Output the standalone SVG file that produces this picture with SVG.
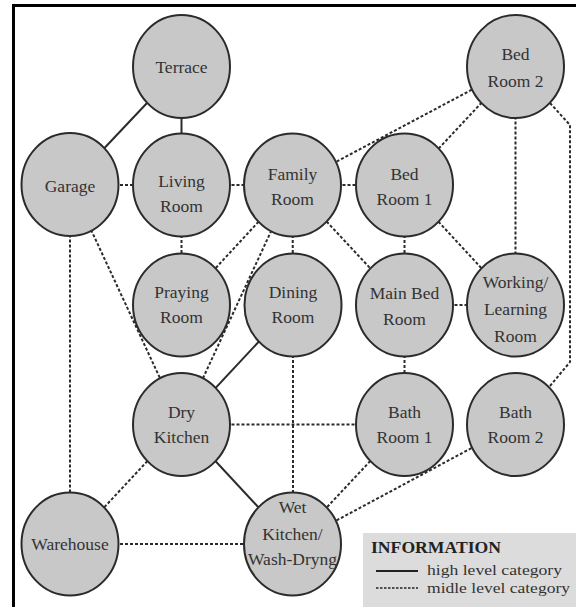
<svg xmlns="http://www.w3.org/2000/svg" width="576" height="607" viewBox="0 0 576 607">
<style>
.n ellipse{fill:#c8c8c8;stroke:#2b2b2b;stroke-width:2}
.n text,.lg text{font-family:"Liberation Serif","Times New Roman",serif;font-size:17.5px;fill:#333;text-anchor:middle}
.lg text{text-anchor:start}
.s{stroke:#2b2b2b;stroke-width:2;fill:none}
.d{stroke:#2b2b2b;stroke-width:2;fill:none;stroke-dasharray:3 2}
</style>
<rect x="0" y="0" width="576" height="607" fill="#fff"/>
<path d="M13.5 607V5.5H576" fill="none" stroke="#000" stroke-width="3"/>
<g id="connectors">
<line class="s" x1="181.5" y1="66.5" x2="70" y2="184.5"/>
<line class="s" x1="181.5" y1="66.5" x2="181.5" y2="185"/>
<line class="s" x1="181.5" y1="424.5" x2="293" y2="305"/>
<line class="s" x1="181.5" y1="424.5" x2="292.5" y2="544"/>
<line class="d" x1="70" y1="185" x2="181.5" y2="185"/>
<line class="d" x1="181.5" y1="185" x2="292.5" y2="185"/>
<line class="d" x1="292.5" y1="185" x2="404.5" y2="185"/>
<line class="d" x1="292.5" y1="185" x2="515.5" y2="66.5"/>
<line class="d" x1="404.5" y1="185" x2="515.5" y2="66.5"/>
<line class="d" x1="515.5" y1="66.5" x2="515.5" y2="305"/>
<polyline class="d" points="550,103 570,125 570,362 550,386"/>
<line class="d" x1="181.5" y1="185" x2="181.5" y2="305"/>
<line class="d" x1="292.5" y1="185" x2="181.5" y2="305"/>
<line class="d" x1="292.5" y1="185" x2="181.5" y2="424.5"/>
<line class="d" x1="292.5" y1="185" x2="293" y2="305"/>
<line class="d" x1="292.5" y1="185" x2="404.5" y2="305"/>
<line class="d" x1="404.5" y1="185" x2="404.5" y2="305"/>
<line class="d" x1="404.5" y1="185" x2="515.5" y2="305"/>
<line class="d" x1="404.5" y1="305" x2="515.5" y2="305"/>
<line class="d" x1="404.5" y1="305" x2="404.5" y2="424.5"/>
<line class="d" x1="70" y1="184.5" x2="70" y2="544"/>
<line class="d" x1="70" y1="184.5" x2="181.5" y2="424.5"/>
<line class="d" x1="293" y1="305" x2="293" y2="544"/>
<line class="d" x1="181.5" y1="424.5" x2="404.5" y2="424.5"/>
<line class="d" x1="181.5" y1="424.5" x2="70" y2="544"/>
<line class="d" x1="70" y1="544" x2="292.5" y2="544"/>
<line class="d" x1="404.5" y1="424.5" x2="292.5" y2="544"/>
<line class="d" x1="515.5" y1="424.5" x2="292.5" y2="544"/>
</g>
<g id="terrace" class="n"><ellipse cx="181.5" cy="66.5" rx="48.5" ry="51.5"/><text x="181.5" y="73">Terrace</text></g>
<g id="bedroom2" class="n"><ellipse cx="515.5" cy="66.5" rx="48.5" ry="51.5"/><text x="515.5" y="60">Bed</text><text x="515.5" y="87">Room 2</text></g>
<g id="garage" class="n"><ellipse cx="70" cy="184.5" rx="48.5" ry="51.5"/><text x="70" y="191.5">Garage</text></g>
<g id="livingroom" class="n"><ellipse cx="181.5" cy="185" rx="48.5" ry="51.5"/><text x="181.5" y="187">Living</text><text x="181.5" y="212">Room</text></g>
<g id="familyroom" class="n"><ellipse cx="292.5" cy="185" rx="48.5" ry="51.5"/><text x="292.5" y="180">Family</text><text x="292.5" y="205">Room</text></g>
<g id="bedroom1" class="n"><ellipse cx="404.5" cy="185" rx="48.5" ry="51.5"/><text x="404.5" y="180">Bed</text><text x="404.5" y="205">Room 1</text></g>
<g id="prayingroom" class="n"><ellipse cx="181.5" cy="305" rx="48.5" ry="51.5"/><text x="181.5" y="298">Praying</text><text x="181.5" y="323">Room</text></g>
<g id="diningroom" class="n"><ellipse cx="293" cy="305" rx="48.5" ry="51.5"/><text x="293" y="298">Dining</text><text x="293" y="323">Room</text></g>
<g id="mainbedroom" class="n"><ellipse cx="404.5" cy="305" rx="48.5" ry="51.5"/><text x="404.5" y="299">Main Bed</text><text x="404.5" y="325">Room</text></g>
<g id="workingroom" class="n"><ellipse cx="515.5" cy="305" rx="48.5" ry="51.5"/><text x="515.5" y="288">Working/</text><text x="515.5" y="315">Learning</text><text x="515.5" y="342">Room</text></g>
<g id="drykitchen" class="n"><ellipse cx="181.5" cy="424.5" rx="48.5" ry="51.5"/><text x="181.5" y="418">Dry</text><text x="181.5" y="443">Kitchen</text></g>
<g id="bathroom1" class="n"><ellipse cx="404.5" cy="424.5" rx="48.5" ry="51.5"/><text x="404.5" y="418">Bath</text><text x="404.5" y="443">Room 1</text></g>
<g id="bathroom2" class="n"><ellipse cx="515.5" cy="424.5" rx="48.5" ry="51.5"/><text x="515.5" y="418">Bath</text><text x="515.5" y="443">Room 2</text></g>
<g id="warehouse" class="n"><ellipse cx="70" cy="544" rx="48.5" ry="51.5"/><text x="70" y="550">Warehouse</text></g>
<g id="wetkitchen" class="n"><ellipse cx="292.5" cy="544" rx="48.5" ry="51.5"/><text x="292.5" y="513">Wet</text><text x="292.5" y="540">Kitchen/</text><text x="292.5" y="565">Wash-Dryng</text></g>
<g id="legend" class="lg">
<rect x="363" y="533" width="213" height="74" fill="#dcdcdc"/>
<text x="371" y="553" style="font-weight:bold;fill:#222;font-size:17px" textLength="130" lengthAdjust="spacingAndGlyphs">INFORMATION</text>
<line x1="376" y1="571" x2="418" y2="571" stroke="#222" stroke-width="2"/>
<text x="427" y="575" style="font-size:15.5px" textLength="135" lengthAdjust="spacingAndGlyphs">high level category</text>
<line x1="376" y1="588" x2="418" y2="588" stroke="#222" stroke-width="1.6" stroke-dasharray="2.5 1.5"/>
<text x="427" y="593" style="font-size:15.5px" textLength="143" lengthAdjust="spacingAndGlyphs">midle level category</text>
</g>
</svg>
